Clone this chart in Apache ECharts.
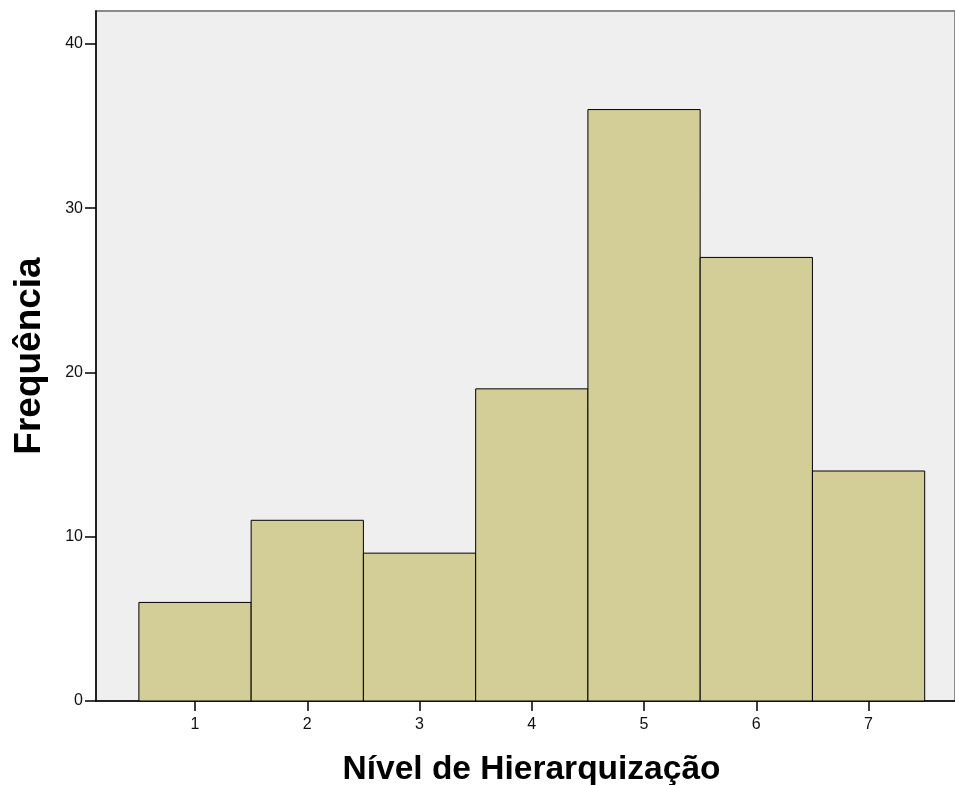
<!DOCTYPE html>
<html>
<head>
<meta charset="utf-8">
<script src="https://cdn.jsdelivr.net/npm/echarts@6/dist/echarts.min.js"></script>
<style>
  html, body { margin: 0; padding: 0; background: #fff; }
  #chart { width: 955px; height: 785px; }
</style>
</head>
<body>
<div id="chart"></div>
<script>
// Nível de Hierarquização - frequências
var levels = [1, 2, 3, 4, 5, 6, 7];
var counts = [6, 11, 9, 19, 36, 27, 14];
var yTicks = [0, 10, 20, 30, 40];

var chart = echarts.init(document.getElementById('chart'));

var barData = levels.map(function (lv, i) {
    return [lv, counts[i]];
});

var option = {
    animation: false,
    grid: {
        left: 96,
        top: 11,
        right: 0,
        bottom: 84,
        outerBoundsMode: 'none',
        containLabel: false,
        show: true,
        backgroundColor: '#EFEFEF',
        borderColor: '#8a8a8a',
        borderWidth: 2
    },
    xAxis: {
        type: 'value',
        min: 0.118,
        max: 7.77,
        name: 'Nível de Hierarquização',
        nameLocation: 'middle',
        nameGap: 52,
        nameTextStyle: {
            fontFamily: 'Liberation Sans, Arial, sans-serif',
            fontWeight: 'bold',
            fontSize: 33.5,
            color: '#000',
            padding: [0, 0, 0, 12]
        },
        splitLine: { show: false },
        axisLine: { lineStyle: { color: '#000', width: 1.5 } },
        axisTick: {
            customValues: levels,
            length: 10,
            lineStyle: { color: '#000', width: 1.5 }
        },
        axisLabel: {
            customValues: levels,
            margin: 16,
            fontFamily: 'Liberation Sans, Arial, sans-serif',
            fontSize: 16,
            color: '#111'
        }
    },
    yAxis: {
        type: 'value',
        min: 0,
        max: 42,
        name: 'Frequência',
        nameLocation: 'middle',
        nameGap: 48,
        nameTextStyle: {
            fontFamily: 'Liberation Sans, Arial, sans-serif',
            fontWeight: 'bold',
            fontSize: 37,
            color: '#000'
        },
        splitLine: { show: false },
        axisLine: { show: true, lineStyle: { color: '#000', width: 1.5 } },
        axisTick: {
            show: true,
            customValues: yTicks,
            length: 11,
            lineStyle: { color: '#000', width: 1.5 }
        },
        axisLabel: {
            customValues: yTicks,
            margin: 13,
            fontFamily: 'Liberation Sans, Arial, sans-serif',
            fontSize: 16,
            color: '#111'
        }
    },
    series: [{
        type: 'custom',
        data: barData,
        renderItem: function (params, api) {
            var x = api.value(0);
            var y = api.value(1);
            var p0 = api.coord([x - 0.5, 0]);
            var p1 = api.coord([x + 0.5, y]);
            return {
                type: 'rect',
                shape: {
                    x: p0[0],
                    y: p1[1],
                    width: p1[0] - p0[0],
                    height: p0[1] - p1[1]
                },
                style: {
                    fill: '#D3CE98',
                    stroke: '#000',
                    lineWidth: 1
                }
            };
        }
    }]
};

chart.setOption(option);
</script>
</body>
</html>
